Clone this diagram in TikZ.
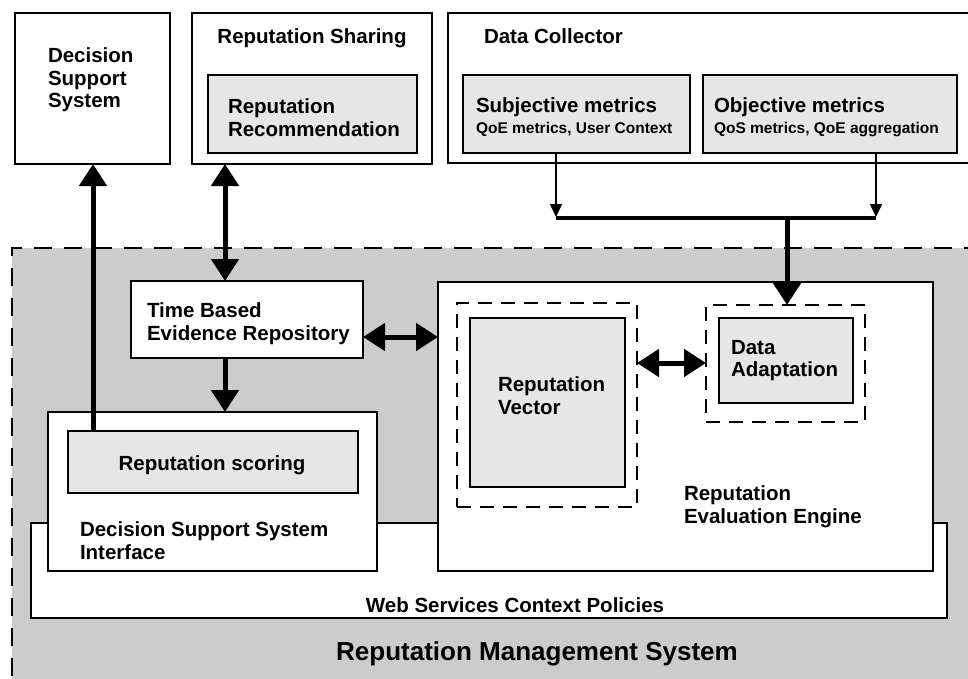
\documentclass[tikz,border=0pt]{standalone}
\usepackage{fontspec}
\setmainfont{Liberation Sans}
\usetikzlibrary{arrows.meta,calc}
\definecolor{rmsgray}{RGB}{204,204,204}
\definecolor{boxgray}{RGB}{230,230,230}
\tikzset{
  BigTri/.tip={Triangle[width=27pt,length=22pt]},
  SmallTri/.tip={Triangle[width=12pt,length=13pt]},
}
\begin{document}
\begin{tikzpicture}[x=1pt,y=-1pt,
  box/.style={draw,line width=1.8pt,fill=white,inner sep=0pt,outer sep=0pt,anchor=north west},
  graybox/.style={box,fill=boxgray},
  dashbox/.style={draw,line width=2pt,dash pattern=on 14pt off 9pt,inner sep=0pt,outer sep=0pt,anchor=north west},
  region/.style={draw,line width=2pt,dash pattern=on 18pt off 12pt,fill=rmsgray,inner sep=0pt,outer sep=0pt,anchor=north west},
  lbl/.style={inner sep=0pt,outer sep=0pt,anchor=north west,align=left,font=\fontsize{20.5}{22.5}\selectfont\bfseries},
  sublbl/.style={inner sep=0pt,outer sep=0pt,anchor=north west,font=\fontsize{15.5}{18}\selectfont\bfseries},
  biglbl/.style={inner sep=0pt,outer sep=0pt,anchor=north,font=\fontsize{26}{30}\selectfont\bfseries},
  thickline/.style={line width=5pt},
  thinline/.style={line width=1.5pt},
]
\useasboundingbox (0,0) rectangle (968,678);
\clip (0,0) rectangle (968,678);

% containers and boxes
\node[region, minimum width=990, minimum height=460] (rms) at (12,248) {};
\node[box, minimum width=155, minimum height=151] (dss) at (15,13) {};
\node[box, minimum width=240, minimum height=151] (share) at (192,13) {};
\node[graybox, minimum width=209, minimum height=78] (rec) at (208,75) {};
\node[box, minimum width=530, minimum height=150] (dc) at (448,13) {};
\node[graybox, minimum width=227, minimum height=78] (subj) at (463,75) {};
\node[graybox, minimum width=254, minimum height=78] (obj) at (703,75) {};
\node[box, minimum width=916, minimum height=95] (web) at (31,523) {};
\node[box, minimum width=329, minimum height=159] (dsi) at (48,412) {};
\node[graybox, minimum width=290, minimum height=62] (scoring) at (68,431) {};
\node[box, minimum width=495, minimum height=289] (ree) at (438,282) {};
\node[box, minimum width=232, minimum height=77] (tber) at (131,281) {};
\node[dashbox, minimum width=180, minimum height=204] (vdash) at (457,303) {};
\node[graybox, minimum width=155, minimum height=169] (vec) at (470,318) {};
\node[dashbox, minimum width=159, minimum height=117] (dadash) at (706,305) {};
\node[graybox, minimum width=134, minimum height=85] (da) at (719,318) {};

% labels
\node[lbl] (tdss) at (48,48) {Decision\\Support\\System};
\node[lbl, anchor=north] (tshare) at (312,29) {Reputation Sharing};
\node[lbl] (trec) at (228,99) {Reputation\\Recommendation};
\node[lbl] (tdc) at (484,29) {Data Collector};
\node[lbl] (tsubj) at (476,98) {Subjective metrics};
\node[sublbl] (tsubj2) at (476,122) {QoE metrics, User Context};
\node[lbl] (tobj) at (714,98) {Objective metrics};
\node[sublbl] (tobj2) at (714,122) {QoS metrics, QoE aggregation};
\node[lbl] (ttber) at (147,303) {Time Based\\Evidence Repository};
\node[lbl, anchor=north] (tscore) at (212,456) {Reputation scoring};
\node[lbl] (tvec) at (498,377) {Reputation\\Vector};
\node[lbl] (tda) at (731,340) {Data\\Adaptation};
\node[lbl] (tree) at (684,486) {Reputation\\Evaluation Engine};
\node[lbl] (tdsi) at (80,522) {Decision Support System\\Interface};
\node[lbl, anchor=north] (tweb) at (515,598) {Web Services Context Policies};
\node[biglbl] (trms) at (537,642) {Reputation Management System};

% connectors
\coordinate (c1) at ($(scoring.north west)+(25,0)$);
\draw[thickline,-BigTri] (c1) -- (c1 |- dss.south);
\coordinate (c2) at ($(tber.north west)+(94,0)$);
\draw[thickline,BigTri-BigTri] (c2 |- share.south) -- (c2);
\coordinate (c3) at ($(tber.south west)+(94,0)$);
\draw[thickline,-BigTri] (c3) -- (c3 |- dsi.north);
\coordinate (c4) at ($(tber.north east)+(0,56)$);
\draw[thickline,BigTri-BigTri] (c4) -- (c4 -| ree.west);
\coordinate (c5) at ($(vdash.north east)+(0,60)$);
\draw[thickline,BigTri-BigTri] (c5) -- (c5 -| dadash.west);

\coordinate (barL) at (556,218);
\coordinate (barR) at (876,218);
\coordinate (barM) at (787,218);
\draw[thinline,-SmallTri,shorten >=1pt] (barL |- subj.south) -- (barL);
\draw[thinline,-SmallTri,shorten >=1pt] (barR |- obj.south) -- (barR);
\draw[line width=4pt] (barL) -- (barR);
\draw[thickline,-BigTri] (barM) -- (barM |- dadash.north);
\end{tikzpicture}
\end{document}
